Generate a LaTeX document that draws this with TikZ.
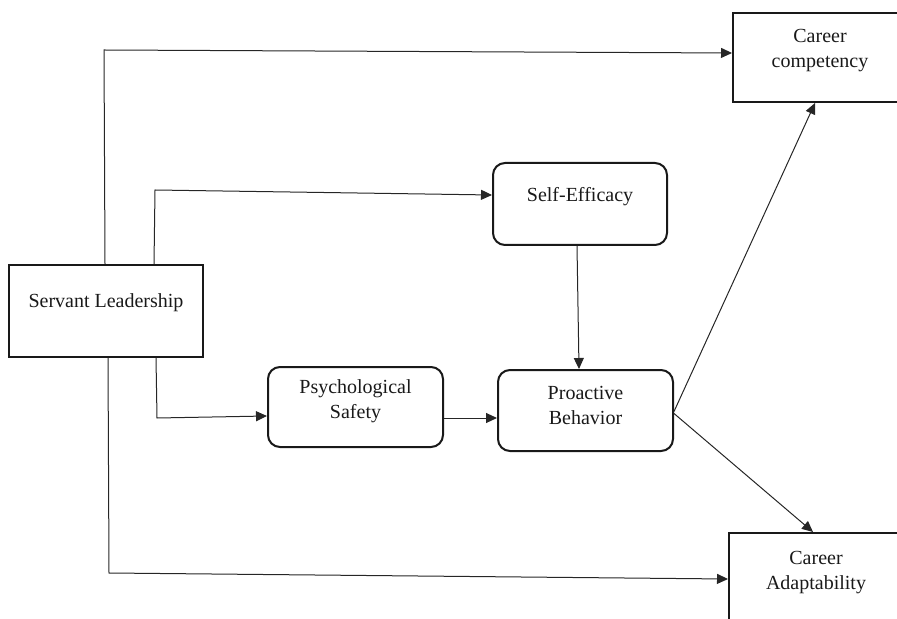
\documentclass[tikz,border=0pt]{standalone}
\usepackage{fontspec}
\setmainfont{Liberation Serif}
\usetikzlibrary{arrows.meta,calc}
\begin{document}
\begin{tikzpicture}[x=0.5pt,y=-0.5pt,
  box/.style={draw=black!90, line width=1pt, minimum width=87pt, inner sep=0pt},
  rbox/.style={box, rounded corners=6pt},
  lbl/.style={font=\fontsize{10}{12.5}\selectfont, align=center, text=black!90, inner sep=0pt},
  arr/.style={draw=black!85, line width=0.5pt, -{Triangle[length=5.5pt,width=5pt]}}]
\path[use as bounding box, clip] (0,0) rectangle (897,619);

% boxes
\node[box, minimum width=97pt, minimum height=46pt] (sl) at (106,311) {};
\node[rbox, minimum width=87pt, minimum height=41pt] (se) at (580,204) {};
\node[rbox, minimum width=87.5pt, minimum height=40pt] (ps) at (355.5,407) {};
\node[rbox, minimum width=87.5pt, minimum height=40.5pt] (pb) at (585.5,410.5) {};
\node[box, minimum width=87pt, minimum height=44.5pt] (cc) at (820,57.5) {};
\node[box, minimum width=87pt, minimum height=44.5pt] (ca) at (816,577.5) {};

% labels
\node[lbl] (slt) at (106,303) {Servant Leadership};
\node[lbl] (set) at (580,197) {Self-Efficacy};
\node[lbl] (pst) at (355.5,401.5) {Psychological\\Safety};
\node[lbl] (pbt) at (585.5,405.5) {Proactive\\Behavior};
\node[lbl] (cct) at (820,50.5) {Career\\competency};
\node[lbl] (cat) at (816,572.5) {Career\\Adaptability};

% bends
\coordinate (c1) at (104,50);
\coordinate (c2) at (155,190);
\coordinate (c3) at (157,418);
\coordinate (c4) at (109,573);

% connectors
\draw[arr] ($(sl.north)+(-1,0)$) -- (c1) -- ($(cc.west)+(0,-4.5)$);
\draw[arr] ($(sl.north)+(48,0)$) -- (c2) -- ($(se.west)+(0,-9)$);
\draw[arr] ($(sl.south)+(50,0)$) -- (c3) -- ($(ps.west)+(0,9)$);
\draw[arr] ($(sl.south)+(2,0)$) -- (c4) -- ($(ca.west)+(0,1.5)$);
\draw[arr] ($(se.south)+(-3,0)$) -- ($(pb.north)+(-6.5,0)$);
\draw[arr] ($(ps.east)+(0,11)$) -- ($(pb.west)+(0,7.5)$);
\draw[arr] ($(pb.east)+(0,1)$) -- ($(cc.south)+(-5,0)$);
\draw[arr] ($(pb.east)+(0,3)$) -- ($(ca.north)+(-3,0)$);
\end{tikzpicture}
\end{document}
